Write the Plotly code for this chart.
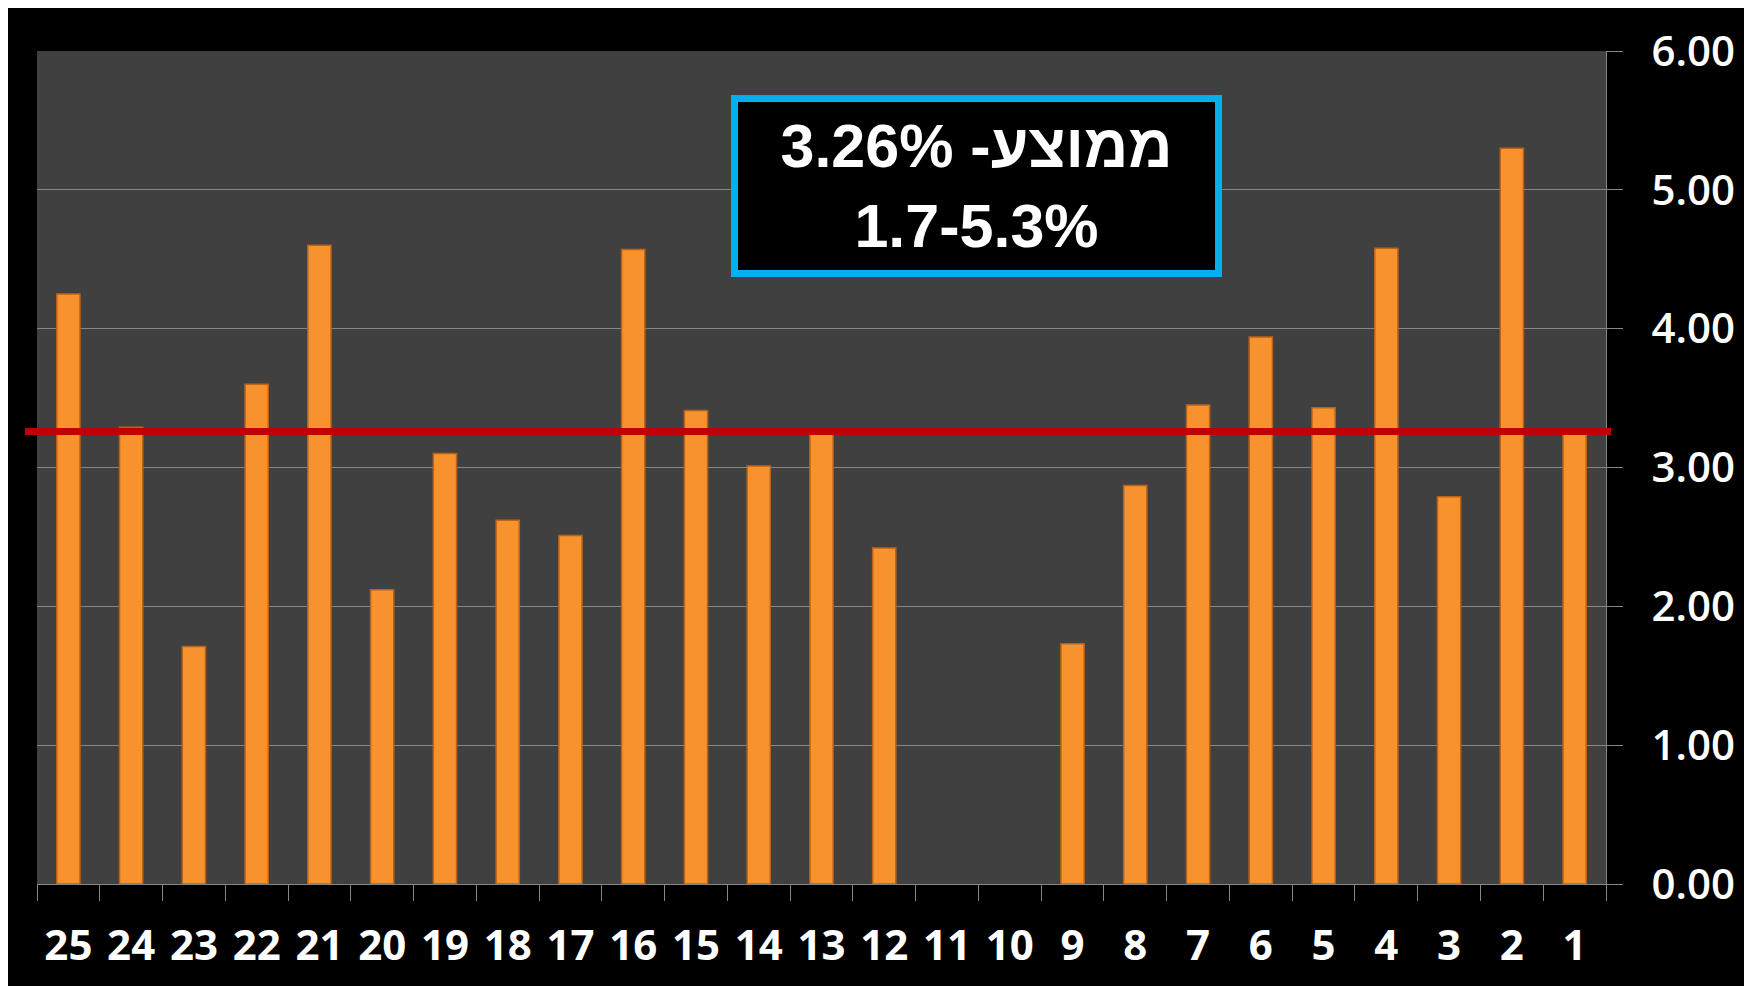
import plotly.graph_objects as go

categories = [str(n) for n in range(25, 0, -1)]
values = [4.25, 3.29, 1.71, 3.60, 4.60, 2.12, 3.10, 2.62, 2.51, 4.57, 3.41, 3.01, 3.24,
          2.42, None, None, 1.73, 2.87, 3.45, 3.94, 3.43, 4.58, 2.79, 5.30, 3.24]
average = 3.26
box_lines = ["3.26% -ממוצע", "1.7-5.3%"]
y_ticks = [0, 1, 2, 3, 4, 5, 6]

W, H = 1752, 986
L, R, T, B = 29, 154, 43, 110
pw, ph = W - L - R, H - T - B

def px2paper_x(px):
    return (px - L) / pw

def px2paper_y(py):
    return (H - B - py) / ph

fig = go.Figure()
fig.add_trace(go.Bar(
    x=categories, y=values,
    marker=dict(color="#F8922C", line=dict(color="#B9621A", width=1.5)),
    width=0.37,
    showlegend=False,
))

fig.add_shape(type="line", xref="paper", yref="y",
              x0=px2paper_x(17), x1=px2paper_x(1603), y0=average, y1=average,
              line=dict(color="#C00000", width=7), layer="above")

fig.add_annotation(
    xref="paper", yref="paper",
    x=px2paper_x(968.5), y=px2paper_y(177.5),
    xanchor="center", yanchor="middle",
    text="<br>".join(box_lines),
    showarrow=False,
    font=dict(family="Liberation Sans, Arial, sans-serif", size=61, color="white", weight="bold"),
    bgcolor="black", bordercolor="#00B0F0", borderwidth=7, borderpad=0,
    width=477, height=168, align="center",
)

fig.update_layout(
    width=W, height=H,
    margin=dict(l=L, r=R, t=T, b=B, pad=0),
    paper_bgcolor="black",
    plot_bgcolor="#404040",
    bargap=0.63,
    xaxis=dict(
        type="category",
        categoryorder="array", categoryarray=categories,
        tickson="boundaries", ticks="outside", ticklen=16, tickcolor="#868686", tickwidth=1,
        showgrid=False, showline=True, linecolor="#868686", linewidth=1,
        tickfont=dict(family="Open Sans, sans-serif", size=42, color="white", weight="bold"),
        ticklabelstandoff=25,
        zeroline=False,
    ),
    yaxis=dict(
        side="right", range=[0, 6], tickvals=y_ticks, tickformat=".2f",
        ticks="outside", ticklen=16, tickcolor="#868686",
        showgrid=True, gridcolor="#868686", gridwidth=1,
        showline=True, linecolor="#868686", linewidth=1,
        zeroline=False,
        tickfont=dict(family="Open Sans, sans-serif", size=42, color="white", weight=600),
        ticklabelstandoff=20,
    ),
)

fig.write_html("out.html")
